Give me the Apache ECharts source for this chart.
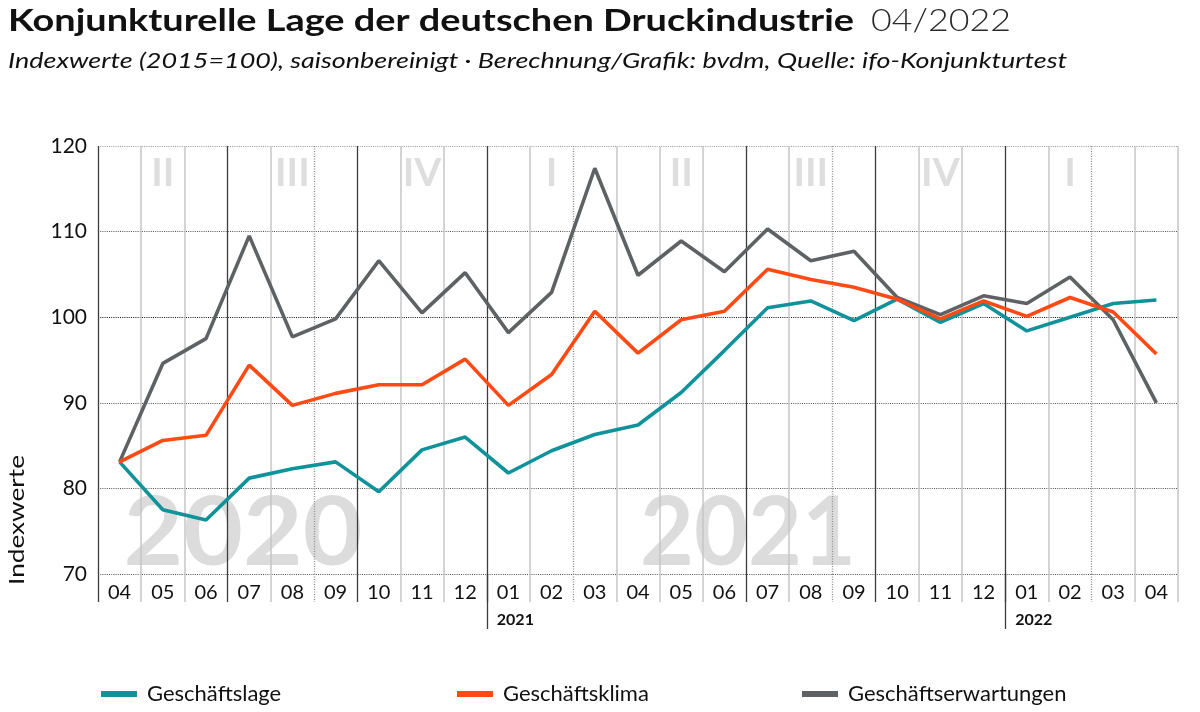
<!DOCTYPE html>
<html>
<head>
  <meta charset="utf-8">
  <title>Konjunkturelle Lage der deutschen Druckindustrie</title>
  <script src="https://cdn.jsdelivr.net/npm/echarts@6/dist/echarts.min.js"></script>
  <style>
    html, body { margin: 0; padding: 0; background: #fff; }
    #chart { width: 1200px; height: 712px; }
  </style>
</head>
<body>
  <div id="chart"></div>
  <script>
    // Monate 04/2020 bis 04/2022
    var months = ['04','05','06','07','08','09','10','11','12','01','02','03','04','05','06','07','08','09','10','11','12','01','02','03','04'];
    // Quartalsbeschriftung oben (Mitte des Quartals)
    var quarters = ['','II','','','III','','','IV','','','I','','','II','','','III','','','IV','','','I','',''];
    var yearMarks = {9: '2021', 21: '2022'};

    var lage  = [83.1,77.5,76.3,81.2,82.3,83.1,79.6,84.5,86.0,81.8,84.4,86.3,87.4,91.2,96.1,101.1,101.9,99.6,102.1,99.4,101.6,98.4,100.0,101.6,102.0];
    var klima = [83.1,85.6,86.2,94.4,89.7,91.1,92.1,92.1,95.1,89.7,93.3,100.7,95.8,99.7,100.7,105.6,104.4,103.5,102.1,99.8,101.9,100.1,102.3,100.6,95.7];
    var erw   = [83.1,94.6,97.5,109.5,97.7,99.8,106.6,100.5,105.2,98.2,102.9,117.4,104.9,108.9,105.3,110.3,106.6,107.7,102.3,100.3,102.5,101.6,104.7,99.7,90.0];

    // Grenzen zwischen den Monaten (26 Stueck)
    var bounds = [];
    for (var i = 0; i <= months.length; i++) bounds.push(String(i));
    var darkB = [0, 3, 6, 9, 15, 18, 21];
    var dotB = [5, 11, 17, 23];

    var FONT = 'Lato';
    var C_LAGE = '#10929a', C_KLIMA = '#ff4a14', C_ERW = '#5e6264';

    // Schrift ist schmaler als im Original -> horizontal strecken
    var ctx = document.createElement('canvas').getContext('2d');
    function fit(text, font, target) {
      ctx.font = font;
      return target / ctx.measureText(text).width;
    }
    var T1 = 'Konjunkturelle Lage der deutschen Druckindustrie';
    var T2 = '04/2022';
    var SUB = 'Indexwerte (2015=100), saisonbereinigt · Berechnung/Grafik: bvdm, Quelle: ifo-Konjunkturtest';
    var sT1 = fit(T1, 'bold 31px Lato', 846);
    var sT2 = fit(T2, '300 31px Lato', 140);
    var sSub = fit(SUB, 'italic 22px Lato', 1059);
    var s2020 = fit('2020', 'bold 96px Lato', 239);
    var s2021 = fit('2021', 'bold 96px Lato', 216);
    var sName = fit('Indexwerte', '21px Lato', 130);

    var chart = echarts.init(document.getElementById('chart'));

    function boundAxis(list, color, type, len, extra) {
      var ax = {
        type: 'category',
        data: bounds,
        boundaryGap: false,
        position: 'bottom',
        axisLine: {show: false},
        axisLabel: {show: false},
        axisTick: {
          show: true, length: len,
          interval: function (idx) { return list.indexOf(idx) >= 0; },
          lineStyle: {color: color, width: 1.3, type: type}
        },
        splitLine: {
          show: true,
          interval: function (idx) { return list.indexOf(idx) >= 0; },
          lineStyle: {color: color, width: 1.3, type: type}
        }
      };
      if (extra) Object.assign(ax, extra);
      return ax;
    }

    var option = {
      backgroundColor: '#fff',
      animation: false,
      legend: [
        {data: ['Geschäftslage'], left: 101},
        {data: ['Geschäftsklima'], left: 457},
        {data: ['Geschäftserwartungen'], left: 802}
      ].map(function (l) {
        return Object.assign(l, {
          top: 683, padding: 0, icon: 'rect', itemWidth: 36, itemHeight: 6,
          textStyle: {fontFamily: FONT, fontSize: 22, color: '#111', padding: [0, 0, 0, 5]}
        });
      }),
      grid: {left: 98, right: 22, top: 146, bottom: 138},
      graphic: [
        {type: 'text', x: 8, y: 5, scaleX: sT1, style: {text: T1, fontFamily: FONT, fontSize: 31, fontWeight: 'bold', fill: '#111', align: 'left', verticalAlign: 'top'}},
        {type: 'text', x: 871, y: 5, scaleX: sT2, style: {text: T2, fontFamily: FONT, fontSize: 31, fontWeight: 300, fill: '#2a2a2a', align: 'left', verticalAlign: 'top'}},
        {type: 'text', x: 8, y: 50, scaleX: sSub, style: {text: SUB, fontFamily: FONT, fontSize: 22, fontStyle: 'italic', fill: '#111', align: 'left', verticalAlign: 'top'}},
        {type: 'text', x: 243, y: 534, z: -10, scaleX: s2020, style: {text: '2020', fontFamily: FONT, fontWeight: 'bold', fontSize: 96, fill: '#dcdcdc', align: 'center', verticalAlign: 'middle'}},
        {type: 'text', x: 748, y: 534, z: -10, scaleX: s2021, style: {text: '2021', fontFamily: FONT, fontWeight: 'bold', fontSize: 96, fill: '#dcdcdc', align: 'center', verticalAlign: 'middle'}},
        {type: 'text', x: 17, y: 520, rotation: Math.PI / 2, scaleX: sName, style: {text: 'Indexwerte', fontFamily: FONT, fontSize: 21, fill: '#111', align: 'center', verticalAlign: 'middle'}}
      ],
      xAxis: [
        {
          type: 'category', data: months, position: 'bottom',
          axisLine: {show: false},
          axisTick: {
            show: true, length: 28,
            interval: function (idx) { return darkB.indexOf(idx) < 0 && dotB.indexOf(idx) < 0; },
            lineStyle: {color: '#c6c6c6', width: 1.5}
          },
          splitLine: {
            show: true,
            interval: function (idx) { return darkB.indexOf(idx) < 0 && dotB.indexOf(idx) < 0; },
            lineStyle: {color: '#c6c6c6', width: 1.5}
          },
          axisLabel: {interval: 0, margin: 9, fontFamily: FONT, fontSize: 20, color: '#111'}
        },
        boundAxis(darkB, '#3c3c3c', 'solid', 28),
        boundAxis(dotB, '#8a8a8a', [1, 1.5], 28),
        boundAxis([9, 21], '#3c3c3c', 'solid', 55, {
          splitLine: {show: false},
          axisLabel: {
            show: true, margin: 38, align: 'left', padding: [0, 0, 0, 10],
            interval: function (idx) { return yearMarks[idx] !== undefined; },
            formatter: function (v, idx) { return yearMarks[idx] || ''; },
            fontFamily: FONT, fontSize: 16, fontWeight: 'bold', color: '#111'
          }
        }),
        {
          type: 'category', data: quarters, position: 'top',
          axisLine: {show: false}, axisTick: {show: false}, splitLine: {show: false},
          axisLabel: {
            inside: true, interval: 0, margin: 8,
            fontFamily: FONT, fontSize: 39, fontWeight: 'bold', color: '#dedede'
          }
        }
      ],
      yAxis: {
        type: 'value', min: 70, max: 120, interval: 10,
        axisLine: {show: false}, axisTick: {show: false},
        axisLabel: {margin: 11, fontFamily: FONT, fontSize: 21, color: '#111'},
        splitLine: {
          lineStyle: {color: ['#555', '#555', '#555', '#111', '#555', '#9a9a9a'], width: 1.2, type: [1, 1.2]}
        }
      },
      series: [
        {name: 'Geschäftserwartungen', type: 'line', data: erw, symbol: 'none', color: C_ERW, lineStyle: {width: 3.6, color: C_ERW}, z: 3},
        {name: 'Geschäftslage', type: 'line', data: lage, symbol: 'none', color: C_LAGE, lineStyle: {width: 3.6, color: C_LAGE}, z: 4},
        {name: 'Geschäftsklima', type: 'line', data: klima, symbol: 'none', color: C_KLIMA, lineStyle: {width: 3.6, color: C_KLIMA}, z: 5}
      ]
    };

    chart.setOption(option);
  </script>
</body>
</html>
